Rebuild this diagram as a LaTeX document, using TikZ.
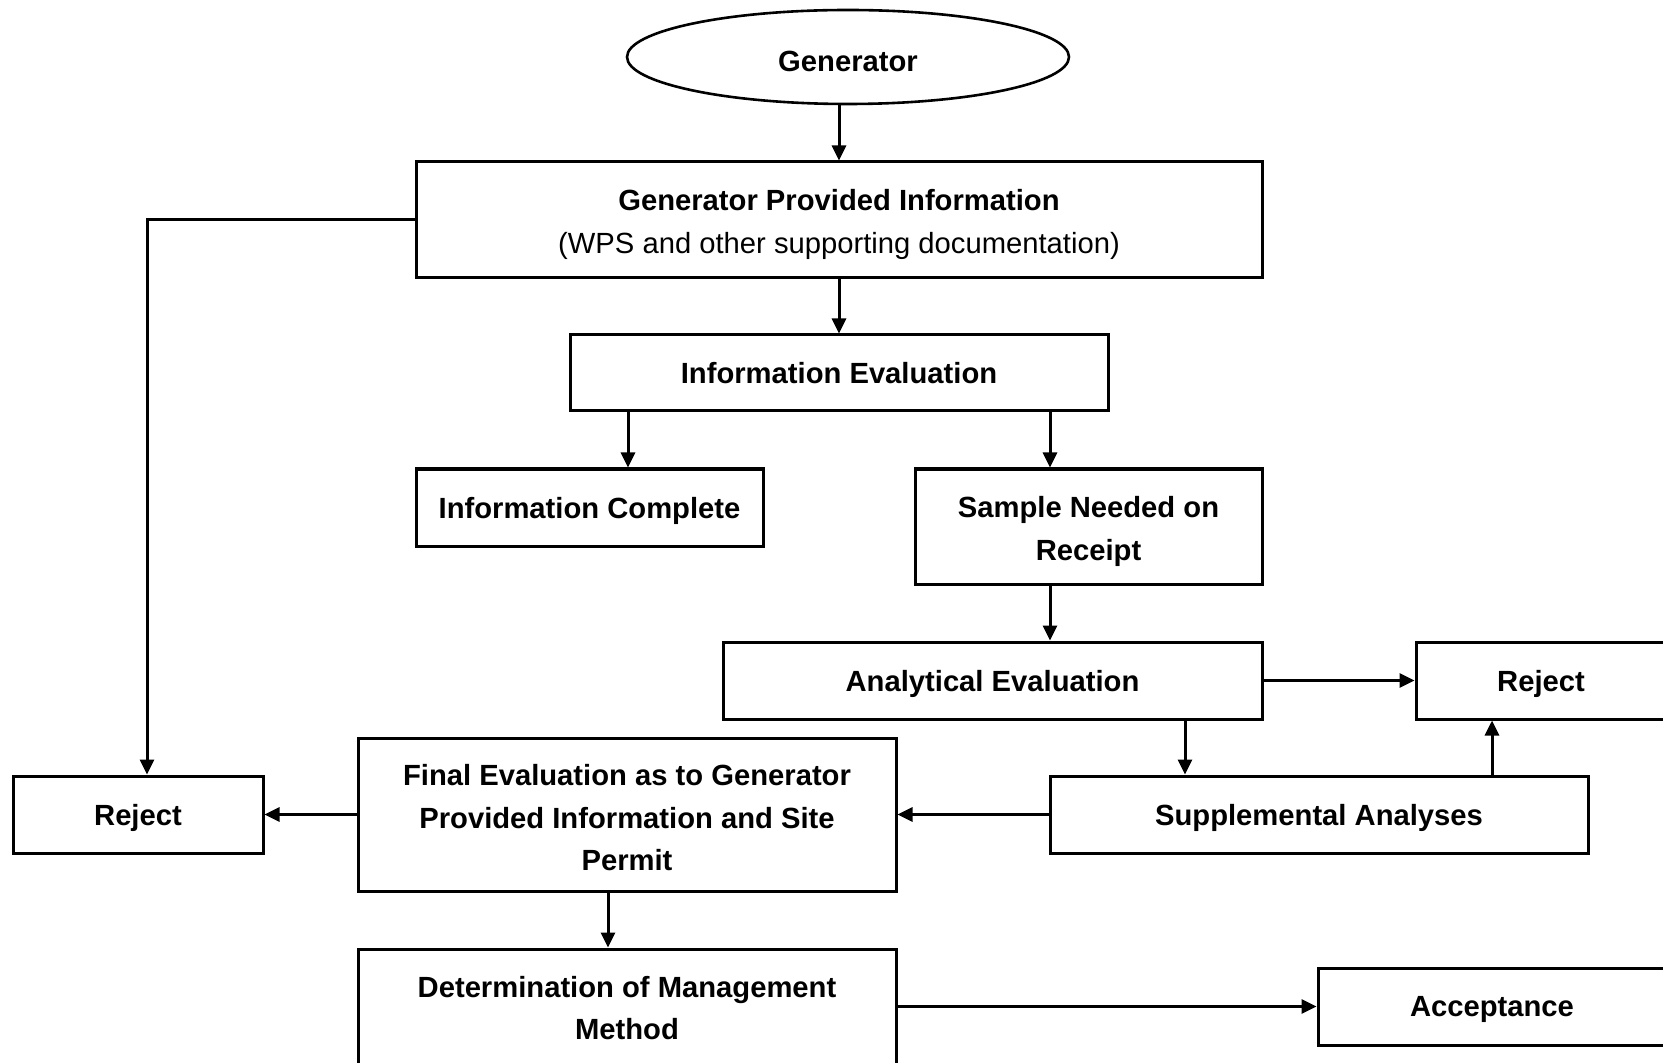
\documentclass[tikz,border=0pt]{standalone}
\usepackage{fontspec}
\setmainfont{Liberation Sans}
\usetikzlibrary{arrows.meta,shapes.geometric}

\tikzset{
  box/.style={draw, line width=1.5pt, rectangle, inner sep=0pt, align=center,
    text depth=0pt, font=\fontsize{14.6pt}{21.2pt}\selectfont\bfseries},
  oval/.style={draw, line width=1.3pt, ellipse, inner sep=0pt, align=center,
    text depth=0pt, font=\fontsize{14.6pt}{21.2pt}\selectfont\bfseries},
  arr/.style={line width=1.5pt, -{Triangle[length=7.5pt,width=7pt]}}
}

\begin{document}
\begin{tikzpicture}[x=0.5pt, y=-0.5pt]
  \useasboundingbox (0,0) rectangle (1663,1063);
  \clip (0,0) rectangle (1663,1063);

  % boxes (positions are centres, sizes in pt)
  \node[oval, minimum width=221pt, minimum height=47pt, text height=14.4pt] (gen) at (848,57) {Generator};
  \node[box, minimum width=423pt, minimum height=58pt, text height=33.4pt] (gpi) at (839,220)
    {Generator Provided Information\\{\mdseries (WPS and other supporting documentation)}};
  \node[box, minimum width=269pt, minimum height=38pt] (ie) at (839,373) {Information Evaluation};
  \node[box, minimum width=173.5pt, minimum height=38.5pt] (ic) at (589.5,507.5) {Information Complete};
  \node[box, minimum width=173.5pt, minimum height=57.5pt, text height=33.8pt] (snr) at (1088.5,526.5)
    {Sample Needed on\\Receipt};
  \node[box, minimum width=269.5pt, minimum height=38.5pt] (ae) at (992.5,680.5) {Analytical Evaluation};
  \node[box, minimum width=125pt, minimum height=38.5pt] (rejR) at (1541,680.5) {Reject};
  \node[box, minimum width=125pt, minimum height=38.5pt] (rejL) at (138,814.5) {Reject};
  \node[box, minimum width=269pt, minimum height=76.5pt, text height=55.9pt] (fe) at (627,814.5)
    {Final Evaluation as to Generator\\Provided Information and Site\\Permit};
  \node[box, minimum width=269pt, minimum height=38.5pt] (sa) at (1319,814.5) {Supplemental Analyses};
  \node[box, minimum width=269pt, minimum height=59pt] (dm) at (627,1008)
    {Determination of Management\\Method};
  \node[box, minimum width=174pt, minimum height=38.5pt] (acc) at (1492,1006.5) {Acceptance};

  % connectors
  \draw[arr] (gpi.north |- gen.south) -- (gpi.north);
  \draw[arr] (gpi.south) -- (ie.north);
  \draw[arr] ([xshift=19.25pt]ic.north |- ie.south) -- ([xshift=19.25pt]ic.north);
  \draw[arr] ([xshift=-19.25pt]snr.north |- ie.south) -- ([xshift=-19.25pt]snr.north);
  \draw[arr] ([xshift=-19.25pt]snr.south) -- ([xshift=-19.25pt]snr.south |- ae.north);
  \draw[arr] (ae.east) -- (rejR.west);
  \draw[arr] ([xshift=-67pt]sa.north |- ae.south) -- ([xshift=-67pt]sa.north);
  \draw[arr] ([xshift=86.5pt]sa.north) -- ([xshift=86.5pt]sa.north |- rejR.south);
  \draw[arr] (sa.west) -- (fe.east);
  \draw[arr] (fe.west) -- (rejL.east);
  \draw[arr] (gpi.west) -| ([xshift=4.5pt]rejL.north);
  \draw[arr] ([xshift=-9.5pt]fe.south) -- ([xshift=-9.5pt]fe.south |- dm.north);
  \draw[arr] (dm.east |- acc.west) -- (acc.west);
\end{tikzpicture}
\end{document}
